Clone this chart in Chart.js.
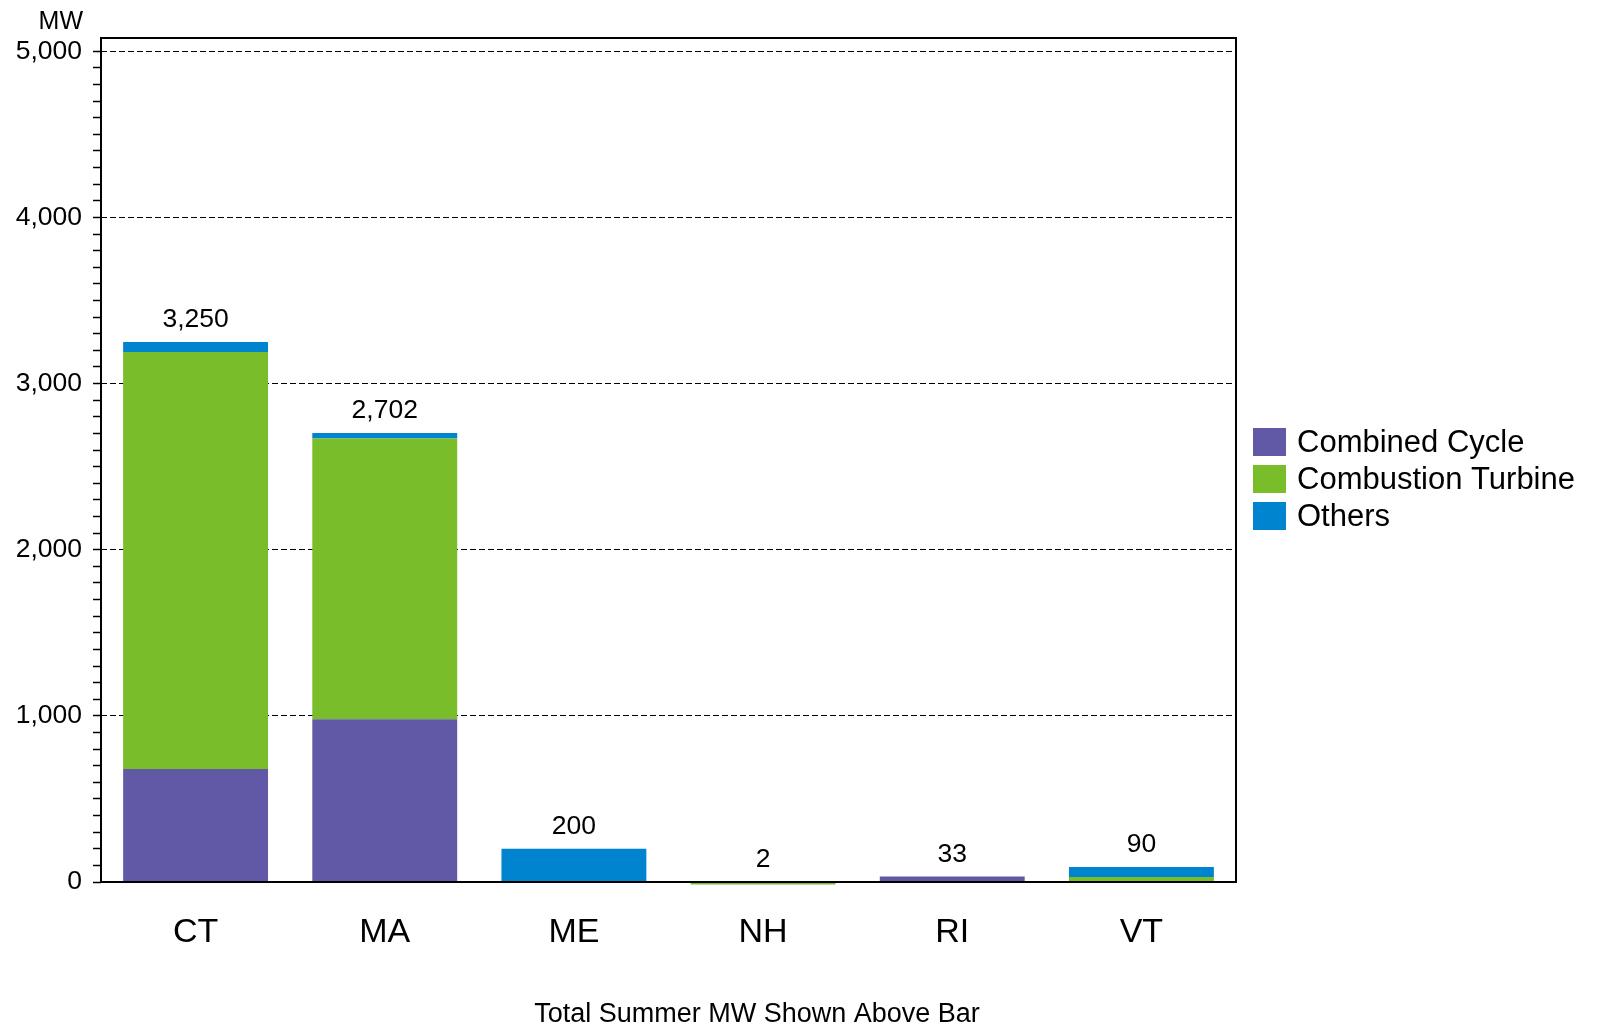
<!DOCTYPE html>
<html><head><meta charset="utf-8">
<script src="https://cdn.jsdelivr.net/npm/chart.js@4.4.1/dist/chart.umd.min.js"></script>
<style>html,body{margin:0;padding:0;background:#fff}#wrap{width:1598px;height:1025px;position:relative}</style>
</head><body><div id="wrap"><canvas id="c"></canvas></div>
<script>
const categories = ['CT', 'MA', 'ME', 'NH', 'RI', 'VT'];
const combinedCycle = [680, 980, 0, 0, 33, 0];
const combustionTurbine = [2510, 1690, 0, -15, 0, 30];
const others = [60, 32, 200, 0, 0, 60];
const totals = [3250, 2702, 200, 2, 33, 90];
const totalLabels = ['3,250', '2,702', '200', '2', '33', '90'];
const seriesNames = ['Combined Cycle', 'Combustion Turbine', 'Others'];
const seriesColors = ['#6159A6', '#7ABD2A', '#0084D0'];
const yMajorTicks = [0, 1000, 2000, 3000, 4000, 5000];
const yTickLabels = ['0', '1,000', '2,000', '3,000', '4,000', '5,000'];
const yAxisUnit = 'MW';
const footNote = 'Total Summer MW Shown Above Bar';

const FONT = '"Liberation Sans", Arial, Helvetica, sans-serif';

const extras = {
  id: 'extras',
  afterDatasetsDraw(chart) {
    const ctx = chart.ctx, a = chart.chartArea;
    const xs = chart.scales.x, ys = chart.scales.y;
    ctx.save();
    // frame
    ctx.strokeStyle = '#000';
    ctx.lineWidth = 2;
    ctx.strokeRect(a.left, a.top, a.right - a.left, a.bottom - a.top);
    // total labels
    ctx.fillStyle = '#000';
    ctx.font = '26.5px ' + FONT;
    ctx.textAlign = 'center';
    ctx.textBaseline = 'middle';
    totals.forEach((t, i) => {
      ctx.fillText(totalLabels[i], xs.getPixelForValue(i), ys.getPixelForValue(t) - 22);
    });
    // unit label
    ctx.font = '25px ' + FONT;
    ctx.textAlign = 'right';
    ctx.fillText(yAxisUnit, 83, 22);
    // foot note
    ctx.font = '27px ' + FONT;
    ctx.textAlign = 'center';
    ctx.fillText(footNote, 757, 1015);
    // legend
    ctx.font = '31px ' + FONT;
    ctx.textAlign = 'left';
    seriesNames.forEach((n, i) => {
      const cy = 442 + i * 37;
      ctx.fillStyle = seriesColors[i];
      ctx.fillRect(1253, cy - 14, 33, 28);
      ctx.fillStyle = '#000';
      ctx.fillText(n, 1297, cy + 1);
    });
    ctx.restore();
  }
};

const minorTicks = [];
for (let v = 0; v <= 5000; v += 100) minorTicks.push(v);

new Chart(document.getElementById('c'), {
  type: 'bar',
  data: {
    labels: categories,
    datasets: [
      { label: seriesNames[0], data: combinedCycle, backgroundColor: seriesColors[0] },
      { label: seriesNames[1], data: combustionTurbine, backgroundColor: seriesColors[1] },
      { label: seriesNames[2], data: others, backgroundColor: seriesColors[2] }
    ]
  },
  options: {
    responsive: true,
    maintainAspectRatio: false,
    animation: false,
    devicePixelRatio: 1,
    layout: { padding: { top: 38, right: 362, left: 0, bottom: 0 } },
    datasets: { bar: { categoryPercentage: 1, barPercentage: 0.766, borderWidth: 0, clip: false } },
    plugins: { legend: { display: false }, tooltip: { enabled: false } },
    scales: {
      x: {
        stacked: true,
        grid: { display: false },
        border: { display: false },
        ticks: { color: '#000', font: { family: FONT, size: 34 }, padding: 22 },
        afterFit(s) { s.height = 143; }
      },
      y: {
        stacked: true,
        min: 0,
        max: 5080,
        afterBuildTicks(s) { s.ticks = minorTicks.map(v => ({ value: v })); },
        grid: {
          color: c => (c.tick && yMajorTicks.includes(c.tick.value)) ? '#000' : 'rgba(0,0,0,0)',
          lineWidth: 1,
          tickColor: '#000',
          tickLength: 8,
          tickWidth: 1.5,
          drawTicks: true
        },
        border: { display: false, dash: [6, 3] },
        ticks: {
          autoSkip: false,
          color: '#000',
          padding: 11,
          font: { family: FONT, size: 26.5 },
          callback: v => { const k = yMajorTicks.indexOf(v); return k >= 0 ? yTickLabels[k] : ''; }
        },
        afterFit(s) { s.width = 101; }
      }
    }
  },
  plugins: [extras]
});
</script>
</body></html>
